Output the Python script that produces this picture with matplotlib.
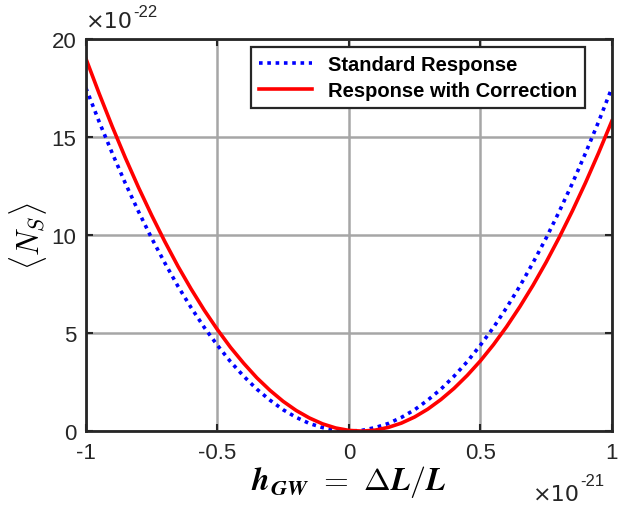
import matplotlib
matplotlib.use("Agg")
import matplotlib.pyplot as plt

plt.rcParams['font.family'] = ['Liberation Sans', 'DejaVu Sans']
plt.rcParams['mathtext.fontset'] = 'cm'

# values in units: x ×1e-21, y ×1e-22
h_gw = [-1.0, -0.95, -0.9, -0.85, -0.8, -0.75, -0.7, -0.65, -0.6, -0.55, -0.5,
        -0.45, -0.4, -0.35, -0.3, -0.25, -0.2, -0.15, -0.1, -0.05, 0.0,
        0.05, 0.1, 0.15, 0.2, 0.25, 0.3, 0.35, 0.4, 0.45, 0.5,
        0.55, 0.6, 0.65, 0.7, 0.75, 0.8, 0.85, 0.9, 0.95, 1.0]
standard = [17.5, 15.79, 14.18, 12.64, 11.2, 9.84, 8.58, 7.39, 6.3, 5.29, 4.38,
            3.54, 2.8, 2.14, 1.58, 1.09, 0.70, 0.39, 0.18, 0.04, 0.0,
            0.04, 0.18, 0.39, 0.70, 1.09, 1.58, 2.14, 2.8, 3.54, 4.38,
            5.29, 6.3, 7.39, 8.58, 9.84, 11.2, 12.64, 14.18, 15.79, 17.5]
corrected = [19.0, 17.23, 15.54, 13.94, 12.43, 11.01, 9.67, 8.41, 7.25, 6.17, 5.18,
             4.27, 3.46, 2.72, 2.08, 1.52, 1.05, 0.67, 0.37, 0.16, 0.037,
             0.0, 0.05, 0.19, 0.41, 0.72, 1.12, 1.61, 2.18, 2.84, 3.58,
             4.41, 5.33, 6.34, 7.43, 8.61, 9.88, 11.23, 12.67, 14.20, 15.81]
xticks = [-1, -0.5, 0, 0.5, 1]
xticklabels = ['-1', '-0.5', '0', '0.5', '1']
yticks = [0, 5, 10, 15, 20]

fig = plt.figure(figsize=(6.18, 5.06), dpi=100)
ax = fig.add_axes([0.139, 0.146, 0.851, 0.775])

ax.plot(h_gw, standard, color='#0000ff', linestyle=(0, (1, 1.3)), linewidth=2.6,
        label='Standard Response')
ax.plot(h_gw, corrected, color='#ff0000', linewidth=2.6,
        label='Response with Correction')

ax.set_xlim(-1, 1)
ax.set_ylim(0, 20)
ax.set_xticks(xticks)
ax.set_xticklabels(xticklabels)
ax.set_yticks(yticks)
ax.grid(True, color='#a6a6a6', linewidth=1.8)
ax.set_axisbelow(True)
for s in ax.spines.values():
    s.set_linewidth(2.0)
    s.set_color('#262626')
ax.tick_params(direction='in', length=5, width=1.5, colors='#262626',
               labelsize=16, top=True, right=True)
ax.tick_params(axis='x', pad=8)
ax.tick_params(axis='y', pad=7)

ax.set_xlabel(r'$\mathbfit{h}_{\mathbfit{GW}}\ \mathbf{=}\ \mathbf{\Delta} \mathbfit{L}\mathbf{/}\mathbfit{L}$',
              fontsize=23, labelpad=0)
ax.set_ylabel(r'$\langle N_S \rangle$', fontsize=22, labelpad=2)

# offset (exponent) texts
fig.text(86 / 618, 1 - 28 / 506, '\u00d710', fontsize=16, color='#262626',
         ha='left', va='baseline', family=['DejaVu Sans'])
fig.text(133 / 618, 1 - 5 / 506, '-22', fontsize=12, color='#262626',
         ha='left', va='top')
fig.text(533 / 618, 1 - 501 / 506, '\u00d710', fontsize=16, color='#262626',
         ha='left', va='baseline', family=['DejaVu Sans'])
fig.text(580 / 618, 1 - 474 / 506, '-21', fontsize=12, color='#262626',
         ha='left', va='top')

leg = ax.legend(loc='upper right', bbox_to_anchor=(0.949, 0.98), fancybox=False,
                framealpha=1, edgecolor='#262626', prop={'weight': 'bold', 'size': 14.5},
                handlelength=2.6, borderpad=0.4, labelspacing=0.35, handletextpad=0.8,
                borderaxespad=0)
leg.get_frame().set_linewidth(1.6)

fig.savefig('out.png', dpi=100)
